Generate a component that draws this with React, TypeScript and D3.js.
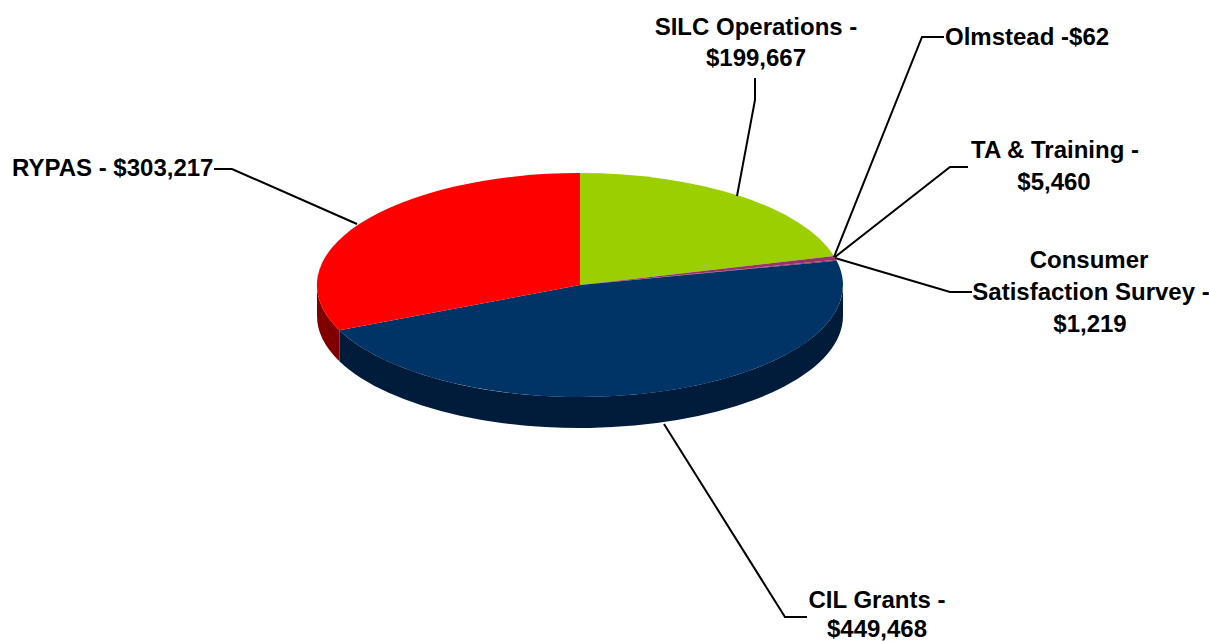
import React from "react";
import * as d3 from "d3";

const categories = ["SILC Operations", "Olmstead", "TA & Training", "Consumer Satisfaction Survey", "CIL Grants", "RYPAS"];
const values = [199667, 62, 5460, 1219, 449468, 303217];
const topColors = ["#9ccf00", "#993366", "#993366", "#993366", "#003366", "#ff0000"];
const sideColors = ["#4e6800", "#4d1a33", "#4d1a33", "#4d1a33", "#001c3a", "#800000"];

const labelLines: { text: string; x: number; y: number; anchor: string }[] = [
  { text: "SILC Operations -", x: 756, y: 35, anchor: "middle" },
  { text: "$199,667", x: 756, y: 66, anchor: "middle" },
  { text: "Olmstead -$62", x: 945, y: 45, anchor: "start" },
  { text: "TA & Training -", x: 1055, y: 158, anchor: "middle" },
  { text: "$5,460", x: 1054, y: 190, anchor: "middle" },
  { text: "Consumer", x: 1089, y: 268, anchor: "middle" },
  { text: "Satisfaction Survey -", x: 1091, y: 300, anchor: "middle" },
  { text: "$1,219", x: 1090, y: 332, anchor: "middle" },
  { text: "RYPAS - $303,217", x: 12, y: 176, anchor: "start" },
  { text: "CIL Grants -", x: 877, y: 608, anchor: "middle" },
  { text: "$449,468", x: 877, y: 637, anchor: "middle" },
];
const leaders: [number, number][][] = [
  [[737, 196], [755, 100], [755, 78]],
  [[834, 257], [922, 37], [944, 37]],
  [[835, 257], [950, 167], [968, 167]],
  [[835, 258], [950, 292], [972, 292]],
  [[664, 424], [785, 617], [807, 617]],
  [[357, 224], [232, 169], [214, 169]],
];

const cx = 580, cy = 285, rx = 263, ry = 112, depth = 31;

export default function App() {
  const arcs = d3.pie<number>().sort(null)(values);
  const arc = d3.arc<d3.PieArcDatum<number>>().innerRadius(0).outerRadius(1);
  const pt = (a: number, dy = 0): [number, number] => [cx + rx * Math.sin(a), cy - ry * Math.cos(a) + dy];
  const sidePath = (a0: number, a1: number) => {
    const s = Math.max(a0, Math.PI / 2), e = Math.min(a1, (3 * Math.PI) / 2);
    if (e <= s) return null;
    const p0 = pt(s), p1 = pt(e), p2 = pt(e, depth), p3 = pt(s, depth);
    return `M${p0}A${rx},${ry} 0 0 1 ${p1}L${p2}A${rx},${ry} 0 0 0 ${p3}Z`;
  };
  const line = d3.line();
  return (
    <svg width={1209} height={641} style={{ position: "absolute", left: 0, top: 0, background: "#fff" }}>
      {arcs.map((d, i) => {
        const p = sidePath(d.startAngle, d.endAngle);
        return p ? <path key={categories[i]} d={p} fill={sideColors[i]} /> : null;
      })}
      <g transform={`translate(${cx},${cy}) scale(${rx},${ry})`}>
        {arcs.map((d, i) => (
          <path key={categories[i]} d={arc(d) as string} fill={topColors[i]} />
        ))}
      </g>
      {leaders.map((l, i) => (
        <path key={i} d={line(l) as string} fill="none" stroke="#000" strokeWidth={2} />
      ))}
      {labelLines.map((t) => (
        <text key={t.text} x={t.x} y={t.y} textAnchor={t.anchor as any} fontFamily="Liberation Sans" fontWeight="bold" fontSize={24} fill="#000">
          {t.text}
        </text>
      ))}
    </svg>
  );
}
